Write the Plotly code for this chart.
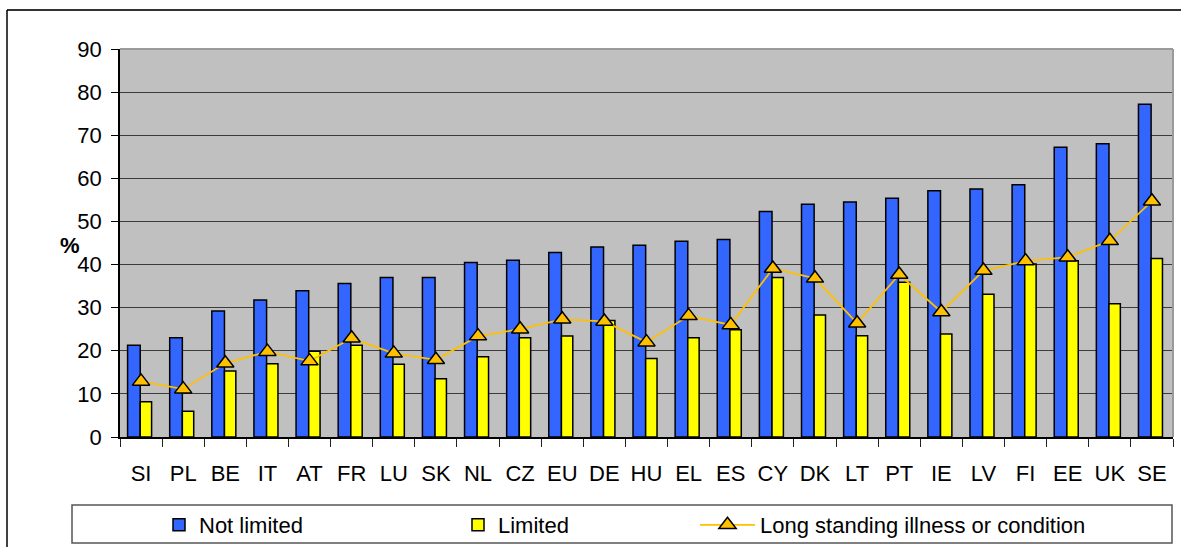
import plotly.graph_objects as go

countries = ["SI", "PL", "BE", "IT", "AT", "FR", "LU", "SK", "NL", "CZ", "EU", "DE", "HU",
             "EL", "ES", "CY", "DK", "LT", "PT", "IE", "LV", "FI", "EE", "UK", "SE"]
not_limited = [21.3, 23.0, 29.2, 31.8, 33.9, 35.6, 37.0, 37.0, 40.5, 41.0, 42.8, 44.1, 44.5,
               45.4, 45.8, 52.3, 54.0, 54.5, 55.4, 57.1, 57.5, 58.5, 67.2, 68.0, 77.2]
limited = [8.2, 6.0, 15.3, 17.0, 19.9, 21.3, 16.9, 13.5, 18.6, 23.0, 23.4, 27.0, 18.2,
           23.0, 24.9, 37.0, 28.3, 23.5, 35.9, 23.9, 33.1, 40.1, 40.9, 30.9, 41.4]
long_standing = [12.9, 11.1, 17.1, 19.8, 17.6, 22.9, 19.4, 17.9, 23.4, 25.0, 27.3, 26.8, 22.0,
                 28.1, 26.0, 39.1, 36.8, 26.4, 37.7, 29.0, 38.6, 40.8, 41.7, 45.5, 54.7]
y_ticks = [0, 10, 20, 30, 40, 50, 60, 70, 80, 90]

FONT = "Liberation Sans, Arial, sans-serif"
FS = 22

fig = go.Figure()
fig.add_trace(go.Bar(
    x=countries, y=not_limited, name="Not limited",
    marker=dict(color="#3366FF", line=dict(color="black", width=1.5)),
    width=0.3, offset=-0.32, legend="legend",
))
fig.add_trace(go.Bar(
    x=countries, y=limited, name="Limited",
    marker=dict(color="#FFFF00", line=dict(color="black", width=1.5)),
    width=0.27, offset=-0.02, legend="legend",
))
fig.add_trace(go.Scatter(
    x=countries, y=long_standing, name="Long standing illness or condition",
    mode="lines+markers",
    line=dict(color="#FFC000", width=1.8),
    marker=dict(symbol="triangle-up", size=15, color="#FFC000",
                line=dict(color="black", width=1.5)),
    legend="legend2",
))

W, H = 1181, 547
L, R, T, B = 120, 8, 49, 110
pw, ph = W - L - R, H - T - B


def px_x(p):
    return (p - L) / pw


def px_y(p):
    return (H - B - p) / ph


shapes = [
    dict(type="line", xref="paper", yref="paper", x0=0, x1=1, y0=1, y1=1,
         line=dict(color="#9A9A9A", width=2), layer="above"),
    dict(type="line", xref="paper", yref="paper", x0=1, x1=1, y0=0, y1=1,
         line=dict(color="#9A9A9A", width=2), layer="above"),
    dict(type="line", xref="paper", yref="paper", x0=px_x(7), x1=px_x(1185),
         y0=px_y(10), y1=px_y(10), line=dict(color="#333333", width=2)),
    dict(type="line", xref="paper", yref="paper", x0=px_x(7), x1=px_x(7),
         y0=px_y(10), y1=px_y(550), line=dict(color="black", width=1.5)),
    dict(type="rect", xref="paper", yref="paper", x0=px_x(72), x1=px_x(1172),
         y0=px_y(543), y1=px_y(505), line=dict(color="#555555", width=1.5)),
]

legend_common = dict(orientation="h", xanchor="left", yanchor="middle",
                     bgcolor="rgba(0,0,0,0)", borderwidth=0,
                     font=dict(family=FONT, size=FS, color="black"))

fig.update_layout(
    width=W, height=H,
    margin=dict(l=L, r=R, t=T, b=B, pad=0, autoexpand=False),
    paper_bgcolor="white",
    plot_bgcolor="#C0C0C0",
    font=dict(family=FONT, size=FS, color="black"),
    barmode="group",
    showlegend=True,
    legend=dict(x=px_x(159), y=px_y(525), entrywidth=254, traceorder="normal",
                **legend_common),
    legend2=dict(x=px_x(695), y=px_y(525), itemwidth=55, **legend_common),
    shapes=shapes,
    annotations=[dict(text="<b>%</b>", xref="paper", yref="paper",
                      x=px_x(58), y=px_y(245), showarrow=False,
                      font=dict(family=FONT, size=FS, color="black"))],
    xaxis=dict(
        type="category", tickson="boundaries", ticks="outside", ticklen=8,
        tickcolor="#222222", tickwidth=1, showline=True, linecolor="black",
        linewidth=1.5, showgrid=False, ticklabelstandoff=16, automargin=False,
        tickfont=dict(family=FONT, size=FS, color="black"),
        range=[-0.5, len(countries) - 0.5],
    ),
    yaxis=dict(
        range=[0, 90], tickvals=y_ticks, ticks="outside", ticklen=7,
        tickcolor="black", showline=True, linecolor="black", linewidth=1.5,
        gridcolor="#3C3C3C", gridwidth=1, zeroline=False, automargin=False,
        ticklabelstandoff=5,
        tickfont=dict(family=FONT, size=FS, color="black"),
    ),
)

fig.write_html("out.html",
               config={"displayModeBar": False},
               post_script="document.body.style.margin='0';document.body.style.overflow='hidden';")
